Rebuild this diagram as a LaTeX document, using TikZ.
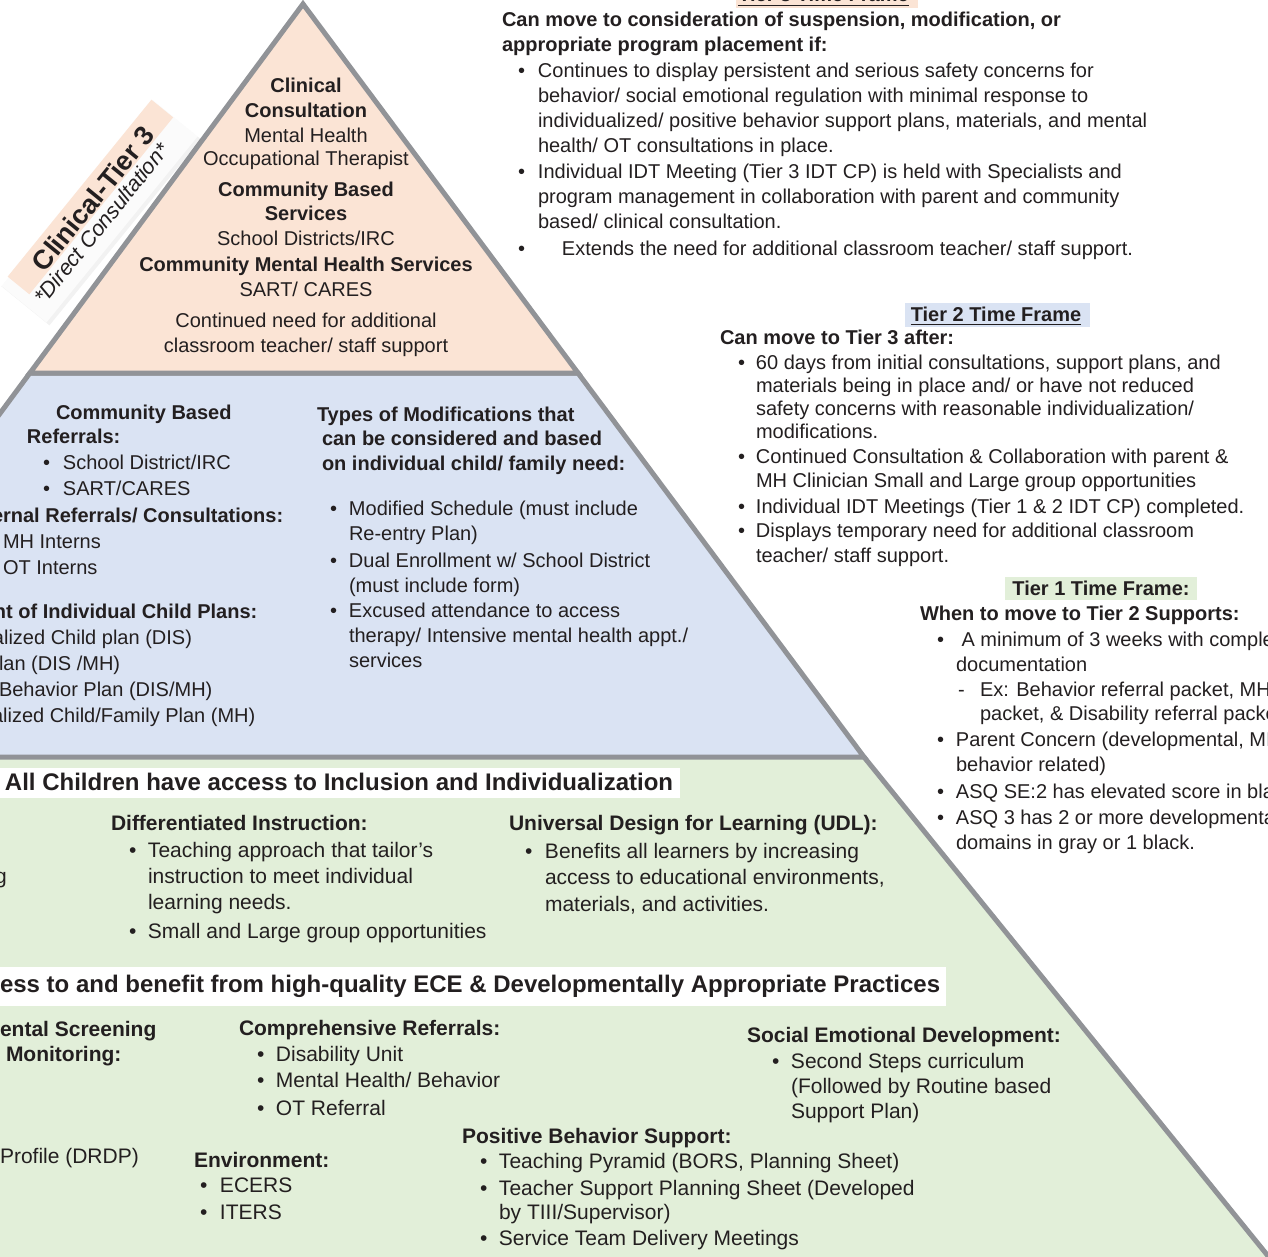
\documentclass[tikz,border=0pt]{standalone}
\usepackage{fontspec}
\setmainfont{Liberation Sans}
\definecolor{ink}{RGB}{35,31,32}
\definecolor{edge}{RGB}{145,147,151}
\definecolor{pinkfill}{RGB}{251,228,213}
\definecolor{bluefill}{RGB}{218,227,243}
\definecolor{greenfill}{RGB}{226,239,217}
\newcounter{nc}
\newcommand\TxtL[4][rg]{\stepcounter{nc}\node[txt,#1,anchor=base west] (n\arabic{nc}) at (#2,#3) {#4};}
\newcommand\TxtC[4][rg]{\stepcounter{nc}\node[txt,#1,anchor=base] (n\arabic{nc}) at (#2,#3) {#4};}
\newcommand\TxtB[5][rg]{\stepcounter{nc}\node[txt,#1,anchor=base west] (n\arabic{nc}) at (#2,#4) {\makebox[\dimexpr#3pt-#2pt\relax][l]{\textbullet}#5};}
\tikzset{
 txt/.style={inner sep=0pt, outer sep=0pt, text=ink},
 rg/.style={font=\fontsize{20}{24}\selectfont},
 bd/.style={font=\fontsize{20}{24}\selectfont\bfseries},
 rgl/.style={font=\fontsize{21}{25}\selectfont},
 bdl/.style={font=\fontsize{21}{25}\selectfont\bfseries},
 ban/.style={font=\fontsize{24}{28}\selectfont\bfseries},
 tier/.style={draw=edge, line width=5pt, line join=miter},
 banner/.style={fill=white, draw=none},
 ul/.style={draw=ink, line width=1.6pt},
}
\begin{document}
\begin{tikzpicture}[x=1pt,y=-1pt]
\useasboundingbox (0,0) rectangle (1268,1257);
% ---------- pyramid ----------
\fill[greenfill] (-10,757) -- (864,757) -- (1278,1272) -- (-10,1272) -- cycle;
\draw[edge, line width=5pt] (864,757) -- (1281,1272);
\filldraw[tier, fill=bluefill] (29.9,373) -- (578,373) -- (864,757) -- (-254,757) -- cycle;
\filldraw[tier, fill=pinkfill] (303,4) -- (578,373) -- (29.9,373) -- cycle;
% ---------- banners and highlights ----------
\fill[banner] (-5,768) rectangle (680,798);
\fill[banner] (-5,967) rectangle (946,1006);
\fill[pinkfill] (736,-5) rectangle (918,8);
\fill[bluefill] (905,303) rectangle (1090,327);
\fill[greenfill] (1005,577) rectangle (1197,600);
% ---------- rotated label ----------
\node[fill=black, fill opacity=0.05, minimum width=240pt, minimum height=62pt, inner sep=0pt, rotate=50.9] (lblsh) at (101.1,212.7) {};
\node[fill=white, fill opacity=0.7, minimum width=240pt, minimum height=62pt, inner sep=0pt, rotate=50.9] (lblbox) at (98.1,209.7) {};
\node[fill=pinkfill, minimum width=228pt, minimum height=28pt, inner sep=0pt, rotate=50.9] (lblbg) at (90.4,197) {};
\node[txt, font=\fontsize{27}{30}\selectfont\bfseries, rotate=50.9] (lbl) at (93,198.5) {Clinical-Tier 3};
\node[txt, font=\fontsize{21.6}{25}\selectfont\itshape, rotate=50.9] (lbl2) at (101.5,223.5) {*Direct Consultation*};
% ---------- tier 3 (pink) ----------
\TxtC[bd]{306}{93}{Clinical}
\TxtC[bd]{306}{118}{Consultation}
\TxtC{306}{143}{Mental Health}
\TxtC{306}{166}{Occupational Therapist}
\TxtC[bd]{306}{197}{Community Based}
\TxtC[bd]{306}{221}{Services}
\TxtC{306}{246}{School Districts/IRC}
\TxtC[bd]{306}{271}{Community Mental Health Services}
\TxtC{306}{296}{SART/ CARES}
\TxtC{306}{327}{Continued need for additional}
\TxtC{306}{352}{classroom teacher/ staff support}
% ---------- tier 2 (blue) ----------
\TxtL[bd]{56}{419}{Community Based}
\TxtL[bd]{27}{443}{Referrals:}
\TxtB{43}{63}{469}{School District/IRC}
\TxtB{43}{63}{495}{SART/CARES}
\TxtL[bd]{-8}{522}{ernal Referrals/ Consultations:}
\TxtL{3}{548}{MH Interns}
\TxtL{3}{574}{OT Interns}
\TxtL[bd]{-6}{618}{nt of Individual Child Plans:}
\TxtL{-7}{644}{alized Child plan (DIS)}
\TxtL{-1}{670}{lan (DIS /MH)}
\TxtL{-1}{696}{Behavior Plan (DIS/MH)}
\TxtL{-8}{722}{alized Child/Family Plan (MH)}
\TxtL[bd]{317}{421}{Types of Modifications that}
\TxtL[bd]{322}{445}{can be considered and based}
\TxtL[bd]{322}{470}{on individual child/ family need:}
\TxtB{330}{349}{515}{Modified Schedule (must include}
\TxtL{349}{540}{Re-entry Plan)}
\TxtB{330}{349}{567}{Dual Enrollment w/ School District}
\TxtL{349}{592}{(must include form)}
\TxtB{330}{349}{617}{Excused attendance to access}
\TxtL{349}{642}{therapy/ Intensive mental health appt./}
\TxtL{349}{667}{services}
% ---------- tier 1 (green) ----------
\TxtL[ban]{5}{790}{All Children have access to Inclusion and Individualization}
\TxtL[rgl]{-5}{883}{g}
\TxtL[bdl]{111}{830}{Differentiated Instruction:}
\TxtB[rgl]{129}{148}{857}{Teaching approach that tailor’s}
\TxtL[rgl]{148}{883}{instruction to meet individual}
\TxtL[rgl]{148}{909}{learning needs.}
\TxtB[rgl]{129}{148}{938}{Small and Large group opportunities}
\TxtL[bdl]{509}{830}{Universal Design for Learning (UDL):}
\TxtB[rgl]{525}{545}{858}{Benefits all learners by increasing}
\TxtL[rgl]{545}{884}{access to educational environments,}
\TxtL[rgl]{545}{911}{materials, and activities.}
\TxtL[ban]{0}{992}{ess to and benefit from high-quality ECE \& Developmentally Appropriate Practices}
\TxtL[bdl]{0}{1036}{ental Screening}
\TxtL[bdl]{6}{1061}{Monitoring:}
\TxtL[rgl]{0}{1163}{Profile (DRDP)}
\TxtL[bdl]{239}{1035}{Comprehensive Referrals:}
\TxtB[rgl]{257}{276}{1061}{Disability Unit}
\TxtB[rgl]{257}{276}{1087}{Mental Health/ Behavior}
\TxtB[rgl]{257}{276}{1115}{OT Referral}
\TxtL[bdl]{194}{1167}{Environment:}
\TxtB[rgl]{200}{220}{1192}{ECERS}
\TxtB[rgl]{200}{220}{1219}{ITERS}
\TxtL[bdl]{462}{1143}{Positive Behavior Support:}
\TxtB[rgl]{480}{499}{1168}{Teaching Pyramid (BORS, Planning Sheet)}
\TxtB[rgl]{480}{499}{1195}{Teacher Support Planning Sheet (Developed}
\TxtL[rgl]{499}{1219}{by TIII/Supervisor)}
\TxtB[rgl]{480}{499}{1245}{Service Team Delivery Meetings}
\TxtL[bdl]{747}{1042}{Social Emotional Development:}
\TxtB[rgl]{772}{791}{1068}{Second Steps curriculum}
\TxtL[rgl]{791}{1093}{(Followed by Routine based}
\TxtL[rgl]{791}{1118}{Support Plan)}
% ---------- tier 3 time frame ----------
\node[txt,bd,anchor=base] (t3t) at (823.5,2) {Tier 3 Time Frame};
\draw[ul] ([yshift=-3.5pt]t3t.base west) -- ([yshift=-3.5pt]t3t.base east);
\TxtL[bd]{502}{27}{Can move to consideration of suspension, modification, or}
\TxtL[bd]{502}{52}{appropriate program placement if:}
\TxtB{518}{538}{78}{Continues to display persistent and serious safety concerns for}
\TxtL{538}{103}{behavior/ social emotional regulation with minimal response to}
\TxtL{538}{128}{individualized/ positive behavior support plans, materials, and mental}
\TxtL{538}{153}{health/ OT consultations in place.}
\TxtB{518}{538}{179}{Individual IDT Meeting (Tier 3 IDT CP) is held with Specialists and}
\TxtL{538}{204}{program management in collaboration with parent and community}
\TxtL{538}{229}{based/ clinical consultation.}
\TxtB{518}{562}{255}{Extends the need for additional classroom teacher/ staff support.}
% ---------- tier 2 time frame ----------
\node[txt,bd,anchor=base] (t2t) at (996,321) {Tier 2 Time Frame};
\draw[ul] ([yshift=-3.5pt]t2t.base west) -- ([yshift=-3.5pt]t2t.base east);
\TxtL[bd]{720}{344}{Can move to Tier 3 after:}
\TxtB{738}{756}{369}{60 days from initial consultations, support plans, and}
\TxtL{756}{392}{materials being in place and/ or have not reduced}
\TxtL{756}{415}{safety concerns with reasonable individualization/}
\TxtL{756}{438}{modifications.}
\TxtB{738}{756}{463}{Continued Consultation \& Collaboration with parent \&}
\TxtL{756}{487}{MH Clinician Small and Large group opportunities}
\TxtB{738}{756}{513}{Individual IDT Meetings (Tier 1 \& 2 IDT CP) completed.}
\TxtB{738}{756}{537}{Displays temporary need for additional classroom}
\TxtL{756}{562}{teacher/ staff support.}
% ---------- tier 1 time frame ----------
\node[txt,bd,anchor=base] (t1t) at (1101,595) {Tier 1 Time Frame:};
\TxtL[bd]{920}{620}{When to move to Tier 2 Supports:}
\TxtB{937}{956}{646}{\ A minimum of 3 weeks with comple}
\TxtL{956}{671}{documentation}
\TxtL{958}{696}{-}
\TxtL{980}{696}{Ex: Behavior referral packet, MH}
\TxtL{980}{720}{packet, \& Disability referral packe}
\TxtB{937}{956}{746}{Parent Concern (developmental, MI}
\TxtL{956}{771}{behavior related)}
\TxtB{937}{956}{798}{ASQ SE:2 has elevated score in bla}
\TxtB{937}{956}{824}{ASQ 3 has 2 or more developmenta}
\TxtL{956}{849}{domains in gray or 1 black.}
\end{tikzpicture}
\end{document}
